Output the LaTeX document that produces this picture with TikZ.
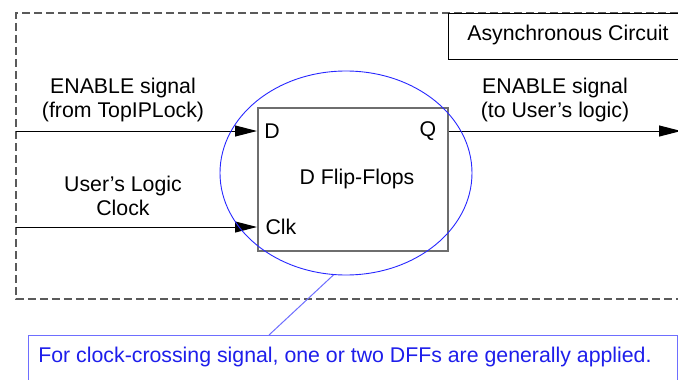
\documentclass[tikz,border=0pt]{standalone}
\usepackage{fontspec}
\setmainfont{Liberation Sans}
\usetikzlibrary{arrows.meta,shapes.geometric}
\definecolor{boxgray}{RGB}{110,110,110}
\definecolor{dashgray}{RGB}{90,90,90}
\definecolor{ellblue}{RGB}{40,40,255}
\definecolor{calblue}{RGB}{110,110,255}
\definecolor{txtblue}{RGB}{30,30,235}
\tikzset{
  lbl/.style={font=\fontsize{21.3}{24}\selectfont, align=center, inner sep=0pt},
  sig/.style={line width=1pt, -{Triangle[length=22pt,width=11pt]}},
}
\begin{document}
\begin{tikzpicture}[x=1pt,y=-1pt]
\useasboundingbox (0,0) rectangle (678,380);
\fill[white] (0,0) rectangle (678,380);
% dashed frame
\draw[dashgray, line width=1.2pt, dash pattern=on 8pt off 4pt] (690,13) -- (16,13) -- (16,299) -- (690,299);
% Async label box
\node[draw=black, line width=0.8pt, minimum width=242pt, minimum height=46pt, anchor=north west, inner sep=0pt] (async) at (448,13) {};
\node[lbl] (asynctxt) at (568,35) {Asynchronous Circuit};
% DFF box
\node[draw=boxgray, line width=1.5pt, minimum width=190pt, minimum height=143pt, anchor=north west, inner sep=0pt] (dff) at (257,107) {};
\node[lbl] (dlab) at (272,131) {D};
\node[lbl] (qlab) at (428,131) {Q};
\node[lbl] (clklab) at (281,227) {Clk};
\node[lbl] (dfftxt) at (357,179) {D Flip-Flops};
% signal labels
\node[lbl] (enin) at (123,100) {ENABLE signal\\(from TopIPLock)};
\node[lbl] (enout) at (555,100) {ENABLE signal\\(to User's logic)};
\node[lbl] (clkin) at (123,196) {User's Logic\\Clock};
% signals
\coordinate (din) at (16,131);
\coordinate (cin) at (16,227);
\coordinate (qout) at (681,131);
\draw[sig] (din) -- (din -| dff.west);
\draw[sig] (cin) -- (cin -| dff.west);
\draw[sig] (qout -| dff.east) -- (qout);
% ellipse
\node[ellipse, draw=ellblue, line width=0.9pt, minimum width=252pt, minimum height=204pt, inner sep=0pt] (ell) at (346,173) {};
% callout
\node[draw=calblue, line width=1pt, minimum width=649pt, minimum height=70pt, anchor=north west, inner sep=0pt] (callout) at (28,335) {};
\node[lbl, text=txtblue] (caltxt) at (345,357) {For clock-crossing signal, one or two DFFs are generally applied.};
\coordinate (calltop) at (269,335);
\draw[calblue, line width=1pt] (ell.-97) -- (calltop);
\end{tikzpicture}
\end{document}
